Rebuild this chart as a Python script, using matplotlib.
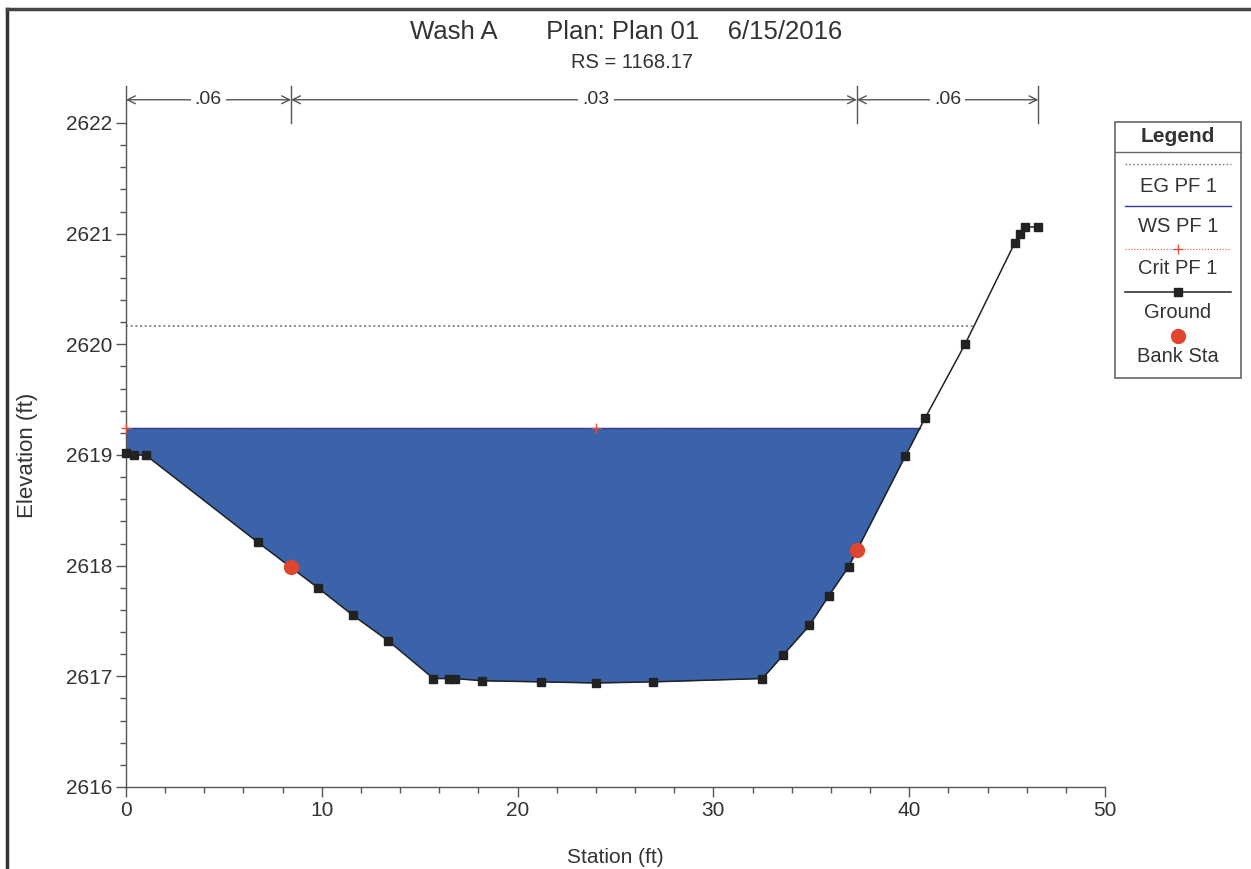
import numpy as np
import matplotlib
matplotlib.use("Agg")
import matplotlib.pyplot as plt
from matplotlib.lines import Line2D
from matplotlib.patches import Rectangle
from matplotlib.ticker import MultipleLocator, FixedLocator

plt.rcParams['font.family'] = ['Liberation Sans', 'DejaVu Sans']

# ground survey points (station ft, elevation ft)
ground_sta = [0.0, 0.4, 1.0, 6.74, 9.8, 11.6, 13.4, 15.7, 16.5, 16.8, 18.2, 21.2,
              24.0, 26.9, 32.5, 33.55, 34.9, 35.9, 36.9, 39.8, 40.8, 42.85,
              45.4, 45.66, 45.9, 46.6]
ground_elev = [2619.02, 2619.0, 2619.0, 2618.21, 2617.80, 2617.55, 2617.32, 2616.98,
               2616.98, 2616.98, 2616.96, 2616.95, 2616.94, 2616.95, 2616.98, 2617.19,
               2617.46, 2617.73, 2617.99, 2618.99, 2619.33, 2620.0, 2620.92, 2621.0,
               2621.06, 2621.06]

bank_sta = [8.43, 37.33]
bank_elev = [2617.99, 2618.14]

ws_elev = 2619.24
eg_elev = 2620.17
crit_elev = 2619.24
crit_sta = [0.0, 24.0]

# Manning's n regions
n_edges = [0.0, 8.43, 37.33, 46.6]
n_values = [".06", ".03", ".06"]
n_label_sta = [4.2, 24.0, 41.97]

title = "Wash A       Plan: Plan 01    6/15/2016"
subtitle = "RS = 1168.17"

x = np.array(ground_sta)
g = np.array(ground_elev)

# right bank crossing points (ground rising past a level)
right = x > 38
def right_cross(level):
    return np.interp(level, g[right], x[right])

ws_right = right_cross(ws_elev)
eg_right = right_cross(eg_elev)

fig = plt.figure(figsize=(12.51, 8.69), dpi=100)
ax = fig.add_axes([126/1251, 1 - 787/869, (1105 - 126)/1251, (787 - 123)/869])

# water fill
xf = np.sort(np.append(x, ws_right))
gf = np.interp(xf, x, g)
ax.fill_between(xf, gf, ws_elev, where=gf <= ws_elev + 1e-9, interpolate=True,
                color='#3A63A9', linewidth=0, zorder=1)

ax.plot([0, eg_right], [eg_elev, eg_elev], color='#777777', linestyle=(0, (1.2, 1.6)),
        linewidth=1.2, zorder=2)
ax.plot([0, ws_right], [crit_elev, crit_elev], color='#E05040', linestyle=':', linewidth=0.8, zorder=2)
ax.plot([0, ws_right], [ws_elev, ws_elev], color='#2B3C9A', linewidth=1.0, zorder=3)
ax.plot(crit_sta, [crit_elev] * len(crit_sta), linestyle='none', marker='+', color='#E05040',
        markersize=7, markeredgewidth=1.0, zorder=4, clip_on=False)
ax.plot(x, g, color='#222222', linewidth=1.1, marker='s', markersize=6,
        markerfacecolor='#222222', markeredgecolor='#222222', zorder=5, clip_on=False)
ax.plot(bank_sta, bank_elev, linestyle='none', marker='o', markersize=10,
        color='#E0452F', zorder=6)

ax.set_xlim(0, 50)
ax.set_ylim(2616, 2622)
ax.xaxis.set_major_locator(MultipleLocator(10))
ax.xaxis.set_minor_locator(MultipleLocator(2))
ax.yaxis.set_major_locator(MultipleLocator(1))
ax.yaxis.set_minor_locator(FixedLocator(np.arange(2616, 2622.01, 0.2)))
ax.tick_params(which='major', direction='out', length=7, width=1, color='#555555',
               labelsize=15, labelcolor='#333333', pad=3)
ax.tick_params(which='minor', direction='out', length=4, width=1, color='#555555')
for s in ['top', 'right']:
    ax.spines[s].set_visible(False)
for s in ['left', 'bottom']:
    ax.spines[s].set_color('#555555')
    ax.spines[s].set_linewidth(1.0)

ax.set_xlabel("Station (ft)", fontsize=15, color='#333333', labelpad=20)
ax.set_ylabel("Elevation (ft)", fontsize=16, color='#333333', labelpad=20)

# Manning's n brackets above the plot
y_arrow = 2622.21
for e in n_edges:
    ax.plot([e, e], [2622.0, 2622.33], color='#555555', linewidth=1.0, clip_on=False)
for i, val in enumerate(n_values):
    ax.annotate("", xy=(n_edges[i], y_arrow), xytext=(n_edges[i + 1], y_arrow),
                arrowprops=dict(arrowstyle='<->', color='#555555', lw=1.0,
                                shrinkA=0, shrinkB=0, mutation_scale=14),
                annotation_clip=False)
    ax.text(n_label_sta[i], y_arrow, val, ha='center', va='center', fontsize=14,
            color='#333333', bbox=dict(facecolor='white', edgecolor='none', pad=3),
            clip_on=False)

fig.text(626/1251, 1 - 32/869, title, ha='center', va='center', fontsize=18.5, color='#333333')
fig.text(632/1251, 1 - 62/869, subtitle, ha='center', va='center', fontsize=14.5, color='#333333')

# legend box
lax = fig.add_axes([1115/1251, 1 - 378/869, 126/1251, 256/869])
lax.set_xlim(0, 1)
lax.set_ylim(256, 0)
lax.axis('off')
lax.add_patch(Rectangle((0, 0), 1, 256, fill=False, edgecolor='#666666', linewidth=1.2,
                        clip_on=False))
lax.plot([0, 1], [30, 30], color='#666666', linewidth=1.0, clip_on=False)
lax.text(0.5, 14, "Legend", ha='center', va='center', fontsize=15, fontweight='bold',
         color='#333333')
lx = [0.08, 0.92]
fs = 14.5
lax.plot(lx, [42, 42], color='#777777', linestyle=(0, (1.2, 1.6)), linewidth=1.0)
lax.text(0.5, 64, "EG PF 1", ha='center', va='center', fontsize=fs, color='#333333')
lax.plot(lx, [84, 84], color='#2B3C9A', linewidth=1.0)
lax.text(0.5, 105, "WS PF 1", ha='center', va='center', fontsize=fs, color='#333333')
lax.plot(lx, [127, 127], color='#E05040', linestyle=':', linewidth=0.8)
lax.plot([0.5], [127], marker='+', color='#E05040', markersize=7, markeredgewidth=1.0)
lax.text(0.5, 147, "Crit PF 1", ha='center', va='center', fontsize=fs, color='#333333')
lax.plot(lx, [170, 170], color='#222222', linewidth=1.1)
lax.plot([0.5], [170], marker='s', markersize=6, color='#222222')
lax.text(0.5, 190, "Ground", ha='center', va='center', fontsize=fs, color='#333333')
lax.plot([0.5], [214], marker='o', markersize=10, color='#E0452F')
lax.text(0.5, 234, "Bank Sta", ha='center', va='center', fontsize=fs, color='#333333')

# outer frame (left and top edges of the scanned page)
fig.add_artist(Line2D([7/1251, 7/1251], [0, 1 - 9/869], transform=fig.transFigure,
                      color='#333333', linewidth=2.5))
fig.add_artist(Line2D([7/1251, 1], [1 - 9/869, 1 - 9/869], transform=fig.transFigure,
                      color='#444444', linewidth=2.5))

fig.savefig("out.png", dpi=100)
